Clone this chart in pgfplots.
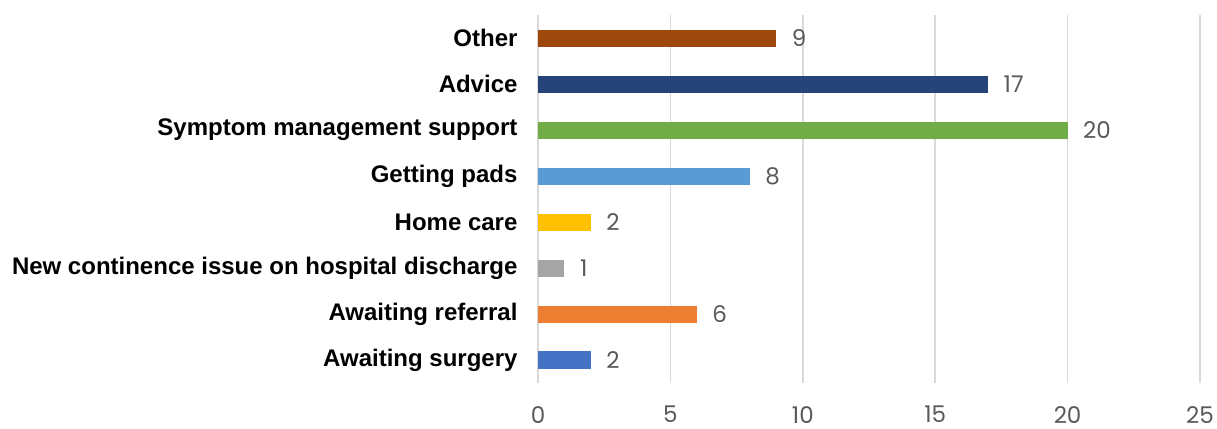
\documentclass[border=0pt]{standalone}
\usepackage{pgfplots}
\pgfplotsset{compat=1.18}
\usepackage{fontspec}
\setmainfont{Liberation Sans}
\newfontfamily\pop{Poppins}
\definecolor{cOther}{HTML}{9E480E}
\definecolor{cAdvice}{HTML}{264478}
\definecolor{cSymp}{HTML}{70AD47}
\definecolor{cPads}{HTML}{5B9BD5}
\definecolor{cHome}{HTML}{FFC000}
\definecolor{cNew}{HTML}{A5A5A5}
\definecolor{cRef}{HTML}{ED7D31}
\definecolor{cSurg}{HTML}{4472C4}
\definecolor{gridgray}{HTML}{D9D9D9}
\definecolor{labgray}{HTML}{595959}
\begin{document}
\begin{tikzpicture}
\useasboundingbox (-538pt,-45pt) rectangle (679pt,383pt);
\begin{axis}[
  at={(0pt,0pt)}, anchor=south west,
  scale only axis, width=662pt, height=368pt,
  xbar, bar width=17pt, bar shift=0pt,
  xmin=0, xmax=25, ymin=-0.5, ymax=7.5,
  xtick={0,5,...,25},
  ytick={0,...,7},
  yticklabels={Awaiting surgery, Awaiting referral, New continence issue on hospital discharge, Home care, Getting pads, Symptom management support, Advice, Other},
  axis line style={draw=none},
  major tick length=0pt,
  xmajorgrids, grid style={draw=gridgray, line width=1.5pt},
  yticklabel style={font=\fontsize{24}{28}\selectfont\bfseries, xshift=-17pt},
  xticklabel style={font=\pop\fontsize{23}{27}\selectfont, text=labgray, yshift=-23pt, inner ysep=0pt},
  /pgf/number format/assume math mode=true,
  nodes near coords,
  nodes near coords style={font=\pop\fontsize{23}{27}\selectfont, text=labgray, anchor=west, xshift=12pt},
  clip=false,
]
\addplot[fill=cSurg, draw=none] coordinates {(2,0)};
\addplot[fill=cRef, draw=none] coordinates {(6,1)};
\addplot[fill=cNew, draw=none] coordinates {(1,2)};
\addplot[fill=cHome, draw=none] coordinates {(2,3)};
\addplot[fill=cPads, draw=none] coordinates {(8,4)};
\addplot[fill=cSymp, draw=none] coordinates {(20,5)};
\addplot[fill=cAdvice, draw=none] coordinates {(17,6)};
\addplot[fill=cOther, draw=none] coordinates {(9,7)};
\end{axis}
\end{tikzpicture}
\end{document}
